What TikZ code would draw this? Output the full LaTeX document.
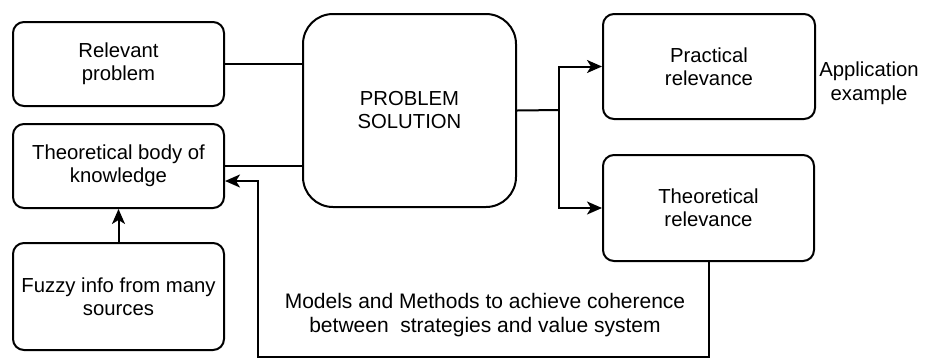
\documentclass[tikz,border=0pt]{standalone}
\usepackage{fontspec}
\setmainfont{Liberation Sans}
\usetikzlibrary{arrows.meta}
\tikzset{>={Stealth[length=15pt,width=13pt,inset=4pt]}}

\begin{document}
\begin{tikzpicture}[
    x = 1pt, y = -1pt,
    bx/.style = {draw, line width = 2pt, rounded corners = 11pt, align = center, inner sep = 0pt, font = \fontsize{20.3}{23}\selectfont},
    bigbx/.style = {bx, rounded corners = 30pt},
    lbl/.style = {align = center, inner sep = 0pt, font = \fontsize{20.3}{23.5}\selectfont},
    ln/.style = {line width = 2pt},
]
\useasboundingbox (0,0) rectangle (927,360);

% left column
\node[bx, minimum width = 211pt, minimum height = 84pt] (relprob) at (118.5,64) {Relevant\\problem};
\node[bx, minimum width = 211pt, minimum height = 84pt] (theobody) at (118.5,166) {Theoretical body of\\knowledge};
\node[bx, minimum width = 211pt, minimum height = 107pt] (fuzzy) at (118.5,296.5) {Fuzzy info from many\\sources};

% centre
\node[bigbx, minimum width = 213pt, minimum height = 193pt] (solution) at (409.5,110.5) {PROBLEM\\SOLUTION};

% right column
\node[bx, minimum width = 212pt, minimum height = 105pt] (practical) at (709,66.5) {Practical\\relevance};
\node[bx, minimum width = 211pt, minimum height = 106pt] (theorel) at (708.5,208) {Theoretical\\relevance};
\node[lbl] (appl) at (869,83) {Application\\example};
\node[lbl, font = \fontsize{21}{24}\selectfont] (models) at (485,315) {Models and Methods to achieve coherence\\between\ \ strategies and value system};

\coordinate (branch) at (559,110);
\coordinate (fbk) at (258,357);

\draw[ln] (relprob.east) -- (relprob.east -| solution.west);
\draw[ln] (theobody.east) -- (theobody.east -| solution.west);
\draw[ln, ->] (fuzzy.north) -- (theobody.south);

\draw[ln] (solution.east) -- (branch);
\draw[ln, ->] (branch) |- (practical.west);
\draw[ln, ->] (branch) |- (theorel.west);

\draw[ln, ->] (theorel.south) |- (fbk) |- ([yshift=-15pt]theobody.east);

\end{tikzpicture}
\end{document}
